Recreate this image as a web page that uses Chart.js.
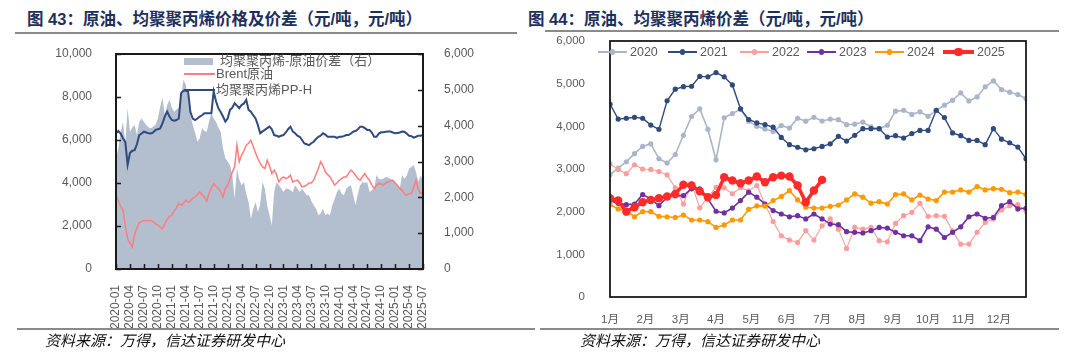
<!DOCTYPE html>
<html><head><meta charset="utf-8">
<script src="https://cdn.jsdelivr.net/npm/chart.js@4.4.1/dist/chart.umd.min.js"></script>
<style>
body{margin:0;width:1080px;height:364px;background:#fff;position:relative;overflow:hidden;font-family:"Liberation Sans","Noto Sans CJK SC",sans-serif;}
.title{position:absolute;top:9px;font-weight:bold;font-size:16.5px;line-height:20px;color:#1f2f5c;white-space:nowrap;font-family:"Liberation Sans","Noto Sans CJK SC",sans-serif;}
.hr{position:absolute;height:2px;background:#8a8a8a;}
.foot{position:absolute;top:331px;font-style:italic;font-size:15px;line-height:18px;color:#111;font-family:"Noto Sans CJK SC",sans-serif;white-space:nowrap;}
canvas{position:absolute;top:0;}
.lg{position:absolute;font-size:13px;line-height:16px;color:#595959;white-space:nowrap;font-family:"Liberation Sans","Noto Sans CJK SC",sans-serif;}
.sw{position:absolute;}
.dot{position:absolute;border-radius:50%;}
.rl{position:absolute;font-size:12.5px;line-height:16px;color:#595959;white-space:nowrap;}
</style></head>
<body>
<div class="title" style="left:27px">图 43：原油、均聚聚丙烯价格及价差（元/吨，元/吨）</div>
<div class="title" style="left:528px">图 44：原油、均聚聚丙烯价差（元/吨，元/吨）</div>
<div class="hr" style="left:15px;width:502px;top:32px"></div>
<div class="hr" style="left:545px;width:514px;top:30px"></div>
<canvas id="c1" width="540" height="364" style="left:0"></canvas>
<canvas id="c2" width="540" height="364" style="left:540px"></canvas>
<div class="hr" style="left:17px;width:518px;top:328px;height:1.5px"></div>
<div class="hr" style="left:540px;width:519px;top:328px;height:1.5px"></div>
<div class="foot" style="left:45px">资料来源：万得，信达证券研发中心</div>
<div class="foot" style="left:580px">资料来源：万得，信达证券研发中心</div>

<!-- left legend -->
<div class="sw" style="left:184px;top:58px;width:29px;height:7px;background:#b3bece"></div>
<div class="lg" style="left:220px;top:53px">均聚聚丙烯-原油价差（右）</div>
<div class="sw" style="left:184px;top:73px;width:31px;height:2px;background:#ff7d7d"></div>
<div class="lg" style="left:216px;top:66px">Brent原油</div>
<div class="sw" style="left:184px;top:89px;width:31px;height:2px;background:#2f4a7c"></div>
<div class="lg" style="left:216px;top:82px">均聚聚丙烯PP-H</div>
<div id="rlegend"></div>

<script>
// ---------- Figure 43 data (semi-monthly, 2020-01 .. 2025-07) ----------
const leftStartYear = 2020;
const ppPrice = [
 6310,6420, 6300,6080, 5900,4850, 5400,5500, 5530,5800, 6230,6300, 6390,6350, 6310,6300, 6350,6470, 6500,6540,
 6780,7100, 7320,7090, 6930,6900, 6930,7000, 8180,8290, 8290,8250, 7300,7000, 6930,7000, 7090,7150, 7240,7240,
 7240,7240, 8260,7800, 7480,7300, 7090,6860, 7000,7400, 7500,7710, 7600,7480, 7630,7700, 7870,7400, 7320,7150,
 7000,6700, 6310,6400, 6470,6550, 6620,6500, 6230,6200, 6150,6200, 6230,6350, 6500,6620, 6400,6310, 6200,6150,
 6000,5840, 5800,5760, 5850,5920, 6050,6150, 6200,6310, 6250,6150, 6150,6150, 6150,6100, 6150,6150, 6180,6230,
 6230,6300, 6390,6420, 6500,6620, 6620,6550, 6470,6470, 6350,6150, 6150,6300, 6360,6360, 6380,6390, 6390,6350,
 6310,6330, 6350,6390, 6380,6300, 6200,6180, 6110,6150, 6200,6200, 6230];
const brentPrice = [
 3430,3200, 2900,2750, 2000,1400, 1200,1010, 1600,1900, 2150,2200, 2260,2250, 2260,2250, 2200,2100, 2050,1950,
 1880,2100, 2300,2450, 2500,2700, 2850,3050, 2960,3050, 3190,3100, 3150,3300, 3350,3450, 3580,3450, 3350,3150,
 3500,3750, 3970,3850, 3740,3600, 3350,3740, 3900,4200, 4500,4750, 5760,4990, 5300,5500, 5760,5850, 5990,5700,
 5400,5140, 4910,4750, 4670,5060, 4800,4440, 4600,4400, 4050,4200, 4280,4200, 4250,4360, 4050,4100, 4130,4000,
 3820,3850, 3900,4000, 4000,4130, 4400,4670, 4990,4800, 4520,4400, 4280,4100, 3900,4000, 4130,4200, 4280,4280,
 4450,4600, 4500,4360, 4200,4130, 4300,4440, 4250,4130, 3900,3740, 3900,3970, 3950,3900, 4000,4050, 4100,4130,
 4000,3900, 3750,3660, 3500,3430, 3500,3510, 3800,4130, 3700,3510, 3600];
const ppBrentSpread = [
 3090,3370, 3830,4100, 3500,4490, 3830,3950, 4020,3740, 4100,4210, 4100,4020, 3950,3930, 3980,4020, 4200,4530,
 4770,4300, 4580,4720, 4500,4390, 4450,4490, 4770,5280, 5140,4800, 4300,4020, 3800,3550, 3650,3930, 3850,3830,
 4110,4350, 4200,4110, 3950,3830, 3370,3090, 3000,2900, 2620,1960, 2800,2500, 2340,2430, 2100,1870, 1400,1680,
 1870,1590, 1800,2430, 2240,1780, 1500,1220, 2150,2430, 2340,2250, 2150,2240, 2240,2200, 2150,2340, 2250,2150,
 2240,2150, 2060,2060, 1900,1780, 1680,1500, 1550,1680, 1500,1550, 1500,1780, 1950,2150, 2240,2100, 2060,2240,
 2300,2340, 2060,1780, 2100,2340, 2430,2400, 2430,2150, 2200,2240, 2620,2520, 2500,2520, 2570,2550, 2520,2480,
 2430,2350, 2240,2620, 2520,2600, 2800,2850, 2900,2700, 2430,2600, 2500];
const leftYTicks = [0,2000,4000,6000,8000,10000];
const rightYTicks = [0,1000,2000,3000,4000,5000,6000];

// ---------- Figure 44 data (weekly) ----------
const monthLabels = ['1月','2月','3月','4月','5月','6月','7月','8月','9月','10月','11月','12月'];
const s2020 = [2870,3020,3170,3360,3530,3590,3240,3140,3340,3790, 4230,4410,3930,3215,4200,4300,4400,4120,4000,3940,
 3880,4020,3960,4190,4120,4210,4125,4170,4155,4040, 4050,4100,3985,3945,4025,4355,4375,4280,4340,4235,
 4375,4495,4610,4785,4595,4690,4925,5065,4860,4800, 4745,4650];
const s2021 = [4520,4170,4190,4210,4190,4030,3930,4600,4870,4930, 4940,5170,5160,5260,5160,4970,4410,4160,4080,4040,
 3980,3740,3570,3510,3450,3475,3530,3590,3765,3655, 3790,3945,3945,3945,3750,3780,3725,3830,3905,3905,
 4375,4205,3845,3780,3670,3670,3570,3945,3700,3615, 3515,3240];
const s2022 = [3120,2990,2890,3100,3000,2990,2940,2860,2560,2180, 2650,2090,2340,2570,2560,2420,2560,2490,2610,2180,
 1770,1435,1335,1280,1555,1335,1670,1830,1590,1135, 1630,1590,1630,1320,1295,1725,1905,1985,2195,1890,
 1905,1890,1550,1240,1240,1515,1750,1830,2040,2140, 2165,2010];
const s2023 = [2260,2195,2165,2180,2400,2300,2140,2340,2375,2375, 2535,2535,2300,2010,1970,2085,2260,2455,2340,2180,
 2025,1945,1880,1905,1830,1945,1830,1710,1695,1530, 1515,1500,1555,1630,1615,1515,1435,1435,1320,1645,
 1590,1395,1515,1645,1880,1945,1845,1865,2140,2235, 2065,2080];
const s2024 = [2165,2065,2025,1880,2000,2000,1890,1880,1865,1920, 1805,1805,1765,1630,1690,1805,1805,2055,2135,2130,
 2260,2355,2495,2275,2105,2085,2085,2125,2155,2275, 2415,2340,2200,2235,2180,2400,2415,2275,2390,2295,
 2260,2460,2460,2510,2460,2590,2510,2540,2525,2445, 2460,2400];
const s2025 = [2315,2260,2000,2105,2220,2275,2315,2355,2415,2630, 2615,2480,2340,2390,2805,2730,2665,2730,2825,2690,
 2805,2845,2825,2615,2220,2495,2745];
const yearNames = ['2020','2021','2022','2023','2024','2025'];

// ---------- helpers ----------
const FONT = "'Liberation Sans','Noto Sans CJK SC',sans-serif";
const fmt = v => Number(v).toLocaleString('en-US');
const leftCategories = [];
for (let i = 0; i < ppPrice.length; i++) {
  const y = leftStartYear + Math.floor(i / 24);
  const m = Math.floor((i % 24) / 2) + 1;
  leftCategories.push(y + '-' + String(m).padStart(2, '0') + (i % 2 ? 'b' : ''));
}
const frameTicks = {
  id: 'frameTicks',
  afterDraw(chart, args, opts) {
    const {ctx, chartArea: a} = chart;
    ctx.save();
    ctx.strokeStyle = '#1a1a1a';
    if (opts.ticks) {
      ctx.lineWidth = 1.5;
      const L = 5;
      ctx.beginPath();
      const y = chart.scales.y, y1 = chart.scales.y1, x = chart.scales.x;
      y.ticks.forEach((t, i) => { const p = Math.round(y.getPixelForTick(i)) + 0.5; ctx.moveTo(a.left, p); ctx.lineTo(a.left + L, p); });
      y1.ticks.forEach((t, i) => { const p = Math.round(y1.getPixelForTick(i)) + 0.5; ctx.moveTo(a.right, p); ctx.lineTo(a.right - L, p); });
      x.ticks.forEach((t, i) => { if (i % 6) return; const p = Math.round(x.getPixelForTick(i)) + 0.5; ctx.moveTo(p, a.bottom); ctx.lineTo(p, a.bottom - L); });
      ctx.stroke();
    }
    ctx.lineWidth = opts.width || 2;
    ctx.strokeRect(a.left, a.top, a.right - a.left, a.bottom - a.top);
    ctx.restore();
  }
};

// ---------- Figure 43 ----------
new Chart(document.getElementById('c1'), {
  type: 'line',
  data: {
    labels: leftCategories,
    datasets: [
      {label: '均聚聚丙烯-原油价差（右）', data: ppBrentSpread, yAxisID: 'y1', fill: 'origin',
       backgroundColor: '#b3bece', borderWidth: 0, borderColor: 'rgba(0,0,0,0)', pointRadius: 0, tension: 0, order: 3},
      {label: 'Brent原油', data: brentPrice, yAxisID: 'y', borderColor: '#ff7d7d', borderWidth: 1.5,
       pointRadius: 0, fill: false, tension: 0, order: 2},
      {label: '均聚聚丙烯PP-H', data: ppPrice, yAxisID: 'y', borderColor: '#2f4a7c', borderWidth: 2,
       pointRadius: 0, fill: false, tension: 0, order: 1}
    ]
  },
  options: {
    responsive: false, animation: false, devicePixelRatio: 1,
    layout: {padding: {top: 54, left: 0, right: 0, bottom: 0}},
    plugins: {legend: {display: false}, tooltip: {enabled: false}, frameTicks: {ticks: true, width: 2}},
    scales: {
      x: {type: 'category', offset: false,
          grid: {display: false}, border: {display: false},
          ticks: {autoSkip: false, minRotation: 90, maxRotation: 90, padding: 8, color: '#595959',
                  font: {family: FONT, size: 12},
                  callback: (v, i) => (i % 6 === 0 ? leftCategories[i] : '')},
          afterFit: s => { s.height = 95; }},
      y: {position: 'left', min: 0, max: 10000,
          afterBuildTicks: s => { s.ticks = leftYTicks.map(v => ({value: v})); },
          grid: {display: false}, border: {display: false},
          ticks: {padding: 16, color: '#595959', font: {family: FONT, size: 12}, callback: v => fmt(v)},
          afterFit: s => { s.width = 116; }},
      y1: {position: 'right', min: 0, max: 6000,
          afterBuildTicks: s => { s.ticks = rightYTicks.map(v => ({value: v})); },
          grid: {display: false}, border: {display: false},
          ticks: {padding: 13, color: '#595959', font: {family: FONT, size: 12}, callback: v => fmt(v)},
          afterFit: s => { s.width = 117; }}
    }
  },
  plugins: [frameTicks]
});

// ---------- Figure 44 ----------
const yearSeries = [s2020, s2021, s2022, s2023, s2024, s2025];
const yearStyle = [
  {c: '#aab6c8', w: 1.6, r: 2.6},
  {c: '#2f4a7c', w: 1.4, r: 2.6},
  {c: '#ff9c9c', w: 1.1, r: 2.6},
  {c: '#7030a0', w: 1.6, r: 2.6},
  {c: '#ff9900', w: 1.6, r: 2.6},
  {c: '#ff2a2a', w: 3.6, r: 4.2}
];
new Chart(document.getElementById('c2'), {
  type: 'line',
  data: {
    datasets: yearSeries.map((arr, k) => ({
      label: yearNames[k],
      data: arr.map((v, i) => ({x: i, y: v})),
      borderColor: yearStyle[k].c, backgroundColor: yearStyle[k].c,
      borderWidth: yearStyle[k].w, pointRadius: yearStyle[k].r, pointBorderWidth: 0,
      pointBackgroundColor: yearStyle[k].c, fill: false, tension: 0, order: 5 - k
    }))
  },
  options: {
    responsive: false, animation: false, devicePixelRatio: 1,
    layout: {padding: {top: 41, left: 0, right: 54, bottom: 0}},
    plugins: {legend: {display: false}, tooltip: {enabled: false}, frameTicks: {ticks: false, width: 1.8}},
    scales: {
      x: {type: 'linear', min: 0, max: 51,
          afterBuildTicks: s => { s.ticks = monthLabels.map((_, k) => ({value: k * 52 / 12})); },
          grid: {display: false}, border: {display: false},
          ticks: {autoSkip: false, maxRotation: 0, minRotation: 0, padding: 8, color: '#595959',
                  font: {family: FONT, size: 11.5}, callback: (v, i) => monthLabels[i]},
          afterFit: s => { s.height = 67; }},
      y: {position: 'left', min: 0, max: 6000,
          afterBuildTicks: s => { s.ticks = rightYTicks.map(v => ({value: v})); },
          grid: {display: false}, border: {display: false},
          ticks: {padding: 17, color: '#595959', font: {family: FONT, size: 11.5}, callback: v => fmt(v)},
          afterFit: s => { s.width = 70; }}
    }
  },
  plugins: [frameTicks]
});

// ---------- Figure 44 legend (HTML) ----------
const legendX = [598, 668, 740, 807, 875, 943];
const lg = document.getElementById('rlegend');
yearNames.forEach((name, k) => {
  const st = yearStyle[k];
  const x = legendX[k], w = k === 5 ? 31 : 29, h = k === 5 ? 4 : 2, cy = 52;
  const line = document.createElement('div');
  line.className = 'sw';
  line.style.cssText = `left:${x}px;top:${cy - h / 2}px;width:${w}px;height:${h}px;background:${st.c}`;
  const d = document.createElement('div');
  d.className = 'dot';
  const r = st.r;
  d.style.cssText = `left:${x + w / 2 - r}px;top:${cy - r}px;width:${2 * r}px;height:${2 * r}px;background:${st.c}`;
  const t = document.createElement('div');
  t.className = 'rl';
  t.style.cssText = `left:${x + w + 3}px;top:${cy - 8}px`;
  t.textContent = name;
  lg.appendChild(line); lg.appendChild(d); lg.appendChild(t);
});
</script>
</body></html>
